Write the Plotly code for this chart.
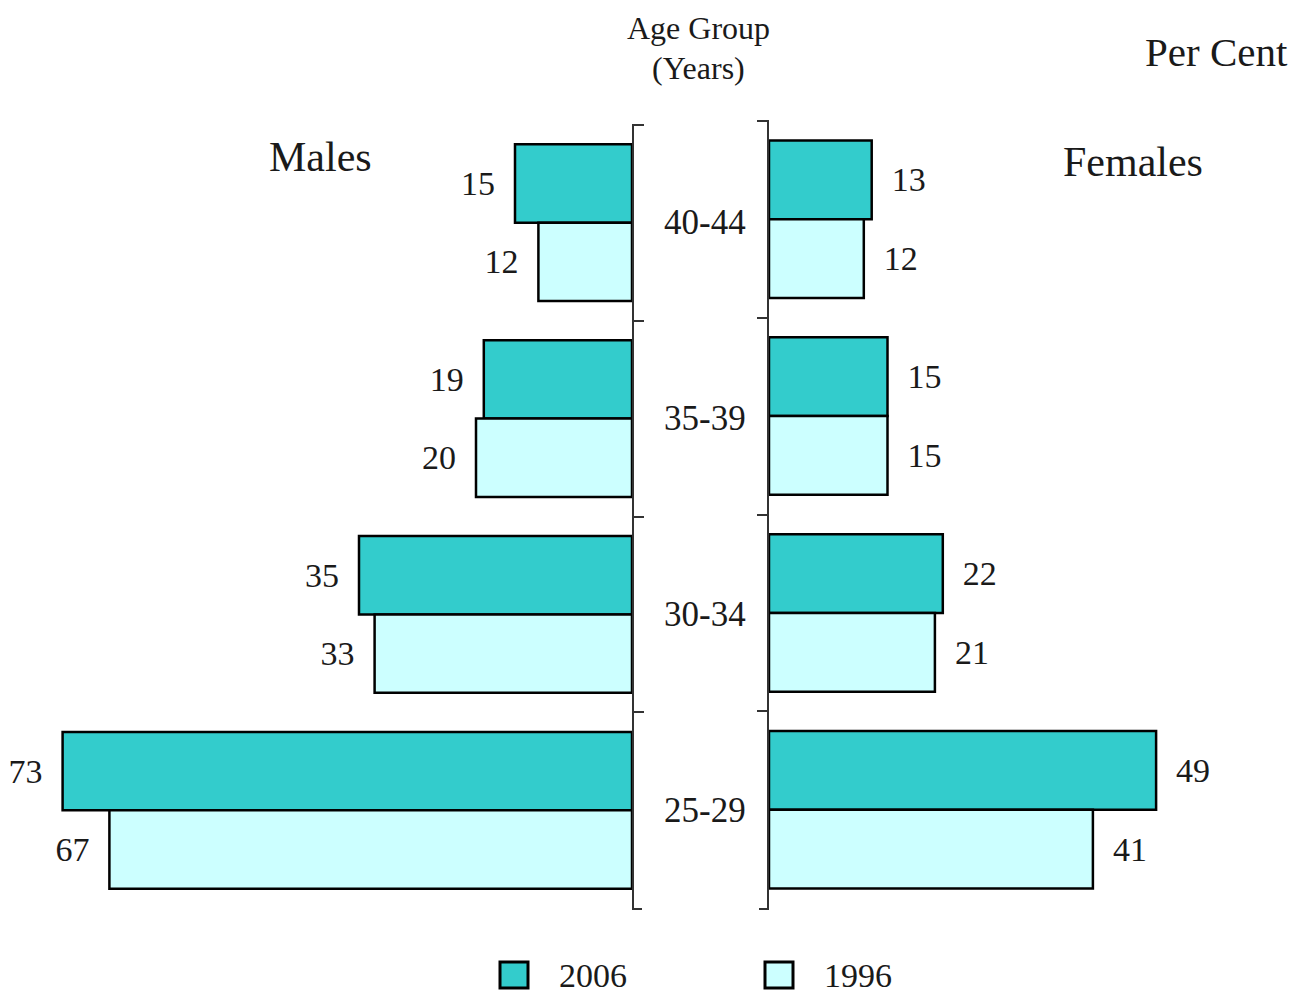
import plotly.graph_objects as go

age_groups = ["40-44", "35-39", "30-34", "25-29"]
male_2006 = [15, 19, 35, 73]
male_1996 = [12, 20, 33, 67]
female_2006 = [13, 15, 22, 49]
female_1996 = [12, 15, 21, 41]
years = ["2006", "1996"]
colors = {"2006": "#33CCCC", "1996": "#CCFFFF"}

# page body has an 8px margin: figure is placed at (8, 8)
OFF = 8
W, H = 1297 - OFF, 993 - OFF
SERIF = "Liberation Serif, Times New Roman, serif"
TXT = "#1a1a1a"

def px_x(p):
    return (p - OFF) / W

def px_y(p):
    return 1 - (p - OFF) / H

fig = go.Figure()
nb = "\u00a0"
for yr, vals in zip(years, [male_2006, male_1996]):
    fig.add_trace(go.Bar(
        y=age_groups, x=vals, orientation="h", name=yr,
        marker=dict(color=colors[yr], line=dict(color="black", width=2.5)),
        text=[f"{v}{nb}{nb}" for v in vals], textposition="outside",
        textfont=dict(family=SERIF, size=34, color=TXT),
        cliponaxis=False, xaxis="x", yaxis="y", showlegend=False,
    ))
for yr, vals in zip(years, [female_2006, female_1996]):
    fig.add_trace(go.Bar(
        y=age_groups, x=vals, orientation="h", name=yr,
        marker=dict(color=colors[yr], line=dict(color="black", width=2.5)),
        text=[f"{nb}{nb}{v}" for v in vals], textposition="outside",
        textfont=dict(family=SERIF, size=34, color=TXT),
        cliponaxis=False, xaxis="x2", yaxis="y2", showlegend=False,
    ))

yax_common = dict(
    type="category", categoryorder="array", categoryarray=age_groups,
    range=[3.504, -0.504], showgrid=False, zeroline=False,
    showticklabels=False, showline=True, linecolor="#333", linewidth=2,
    ticks="outside", tickson="boundaries", ticklen=10, tickwidth=2,
    tickcolor="#333",
)

fig.update_layout(
    width=W, height=H, margin=dict(l=0, r=0, t=0, b=0),
    plot_bgcolor="white", paper_bgcolor="white",
    barmode="group", bargap=0.2, bargroupgap=0,
    showlegend=False,
    xaxis=dict(domain=[px_x(8), px_x(632)], range=[80, 0], visible=False),
    xaxis2=dict(domain=[px_x(769), 1], range=[0, 528 / 7.9], visible=False),
    yaxis=dict(domain=[px_y(909), px_y(124)], anchor="x", side="right", **yax_common),
    yaxis2=dict(domain=[px_y(909), px_y(120)], anchor="x2", side="left", **yax_common),
)

ann = []
for g in age_groups:
    ann.append(dict(x=px_x(705), y=g, xref="paper", yref="y", text=g,
                    showarrow=False, font=dict(family=SERIF, size=35, color=TXT),
                    xanchor="center", yanchor="middle"))

ann += [
    dict(x=px_x(698), y=px_y(8), text="Age Group", xref="paper", yref="paper",
         showarrow=False, font=dict(family=SERIF, size=32, color=TXT),
         xanchor="center", yanchor="top"),
    dict(x=px_x(698), y=px_y(68), text="(Years)", xref="paper", yref="paper",
         showarrow=False, font=dict(family=SERIF, size=32, color=TXT),
         xanchor="center", yanchor="middle"),
    dict(x=px_x(1290), y=px_y(52), text="Per Cent", xref="paper", yref="paper",
         showarrow=False, font=dict(family=SERIF, size=41, color=TXT),
         xanchor="right", yanchor="middle"),
    dict(x=px_x(320), y=px_y(157), text="Males", xref="paper", yref="paper",
         showarrow=False, font=dict(family=SERIF, size=42, color=TXT),
         xanchor="center", yanchor="middle"),
    dict(x=px_x(1133), y=px_y(162), text="Females", xref="paper", yref="paper",
         showarrow=False, font=dict(family=SERIF, size=42, color=TXT),
         xanchor="center", yanchor="middle"),
]

shapes = []
# closing ticks at the bottom of each age axis
shapes.append(dict(type="line", xref="paper", yref="paper",
                   x0=px_x(632), x1=px_x(642), y0=px_y(909), y1=px_y(909),
                   line=dict(color="#333", width=2)))
shapes.append(dict(type="line", xref="paper", yref="paper",
                   x0=px_x(759), x1=px_x(769), y0=px_y(909), y1=px_y(909),
                   line=dict(color="#333", width=2)))

# legend drawn as shapes + text
legend_x = {"2006": 500, "1996": 765}
for yr in years:
    x0 = legend_x[yr]
    shapes.append(dict(type="rect", xref="paper", yref="paper",
                       x0=px_x(x0), x1=px_x(x0 + 28), y0=px_y(988), y1=px_y(962),
                       fillcolor=colors[yr], line=dict(color="black", width=3)))
    ann.append(dict(x=px_x(x0 + 57), y=px_y(975), text=yr, xref="paper", yref="paper",
                    showarrow=False, font=dict(family=SERIF, size=34, color=TXT),
                    xanchor="left", yanchor="middle"))

fig.update_layout(annotations=ann, shapes=shapes)
fig.write_html("out.html")
